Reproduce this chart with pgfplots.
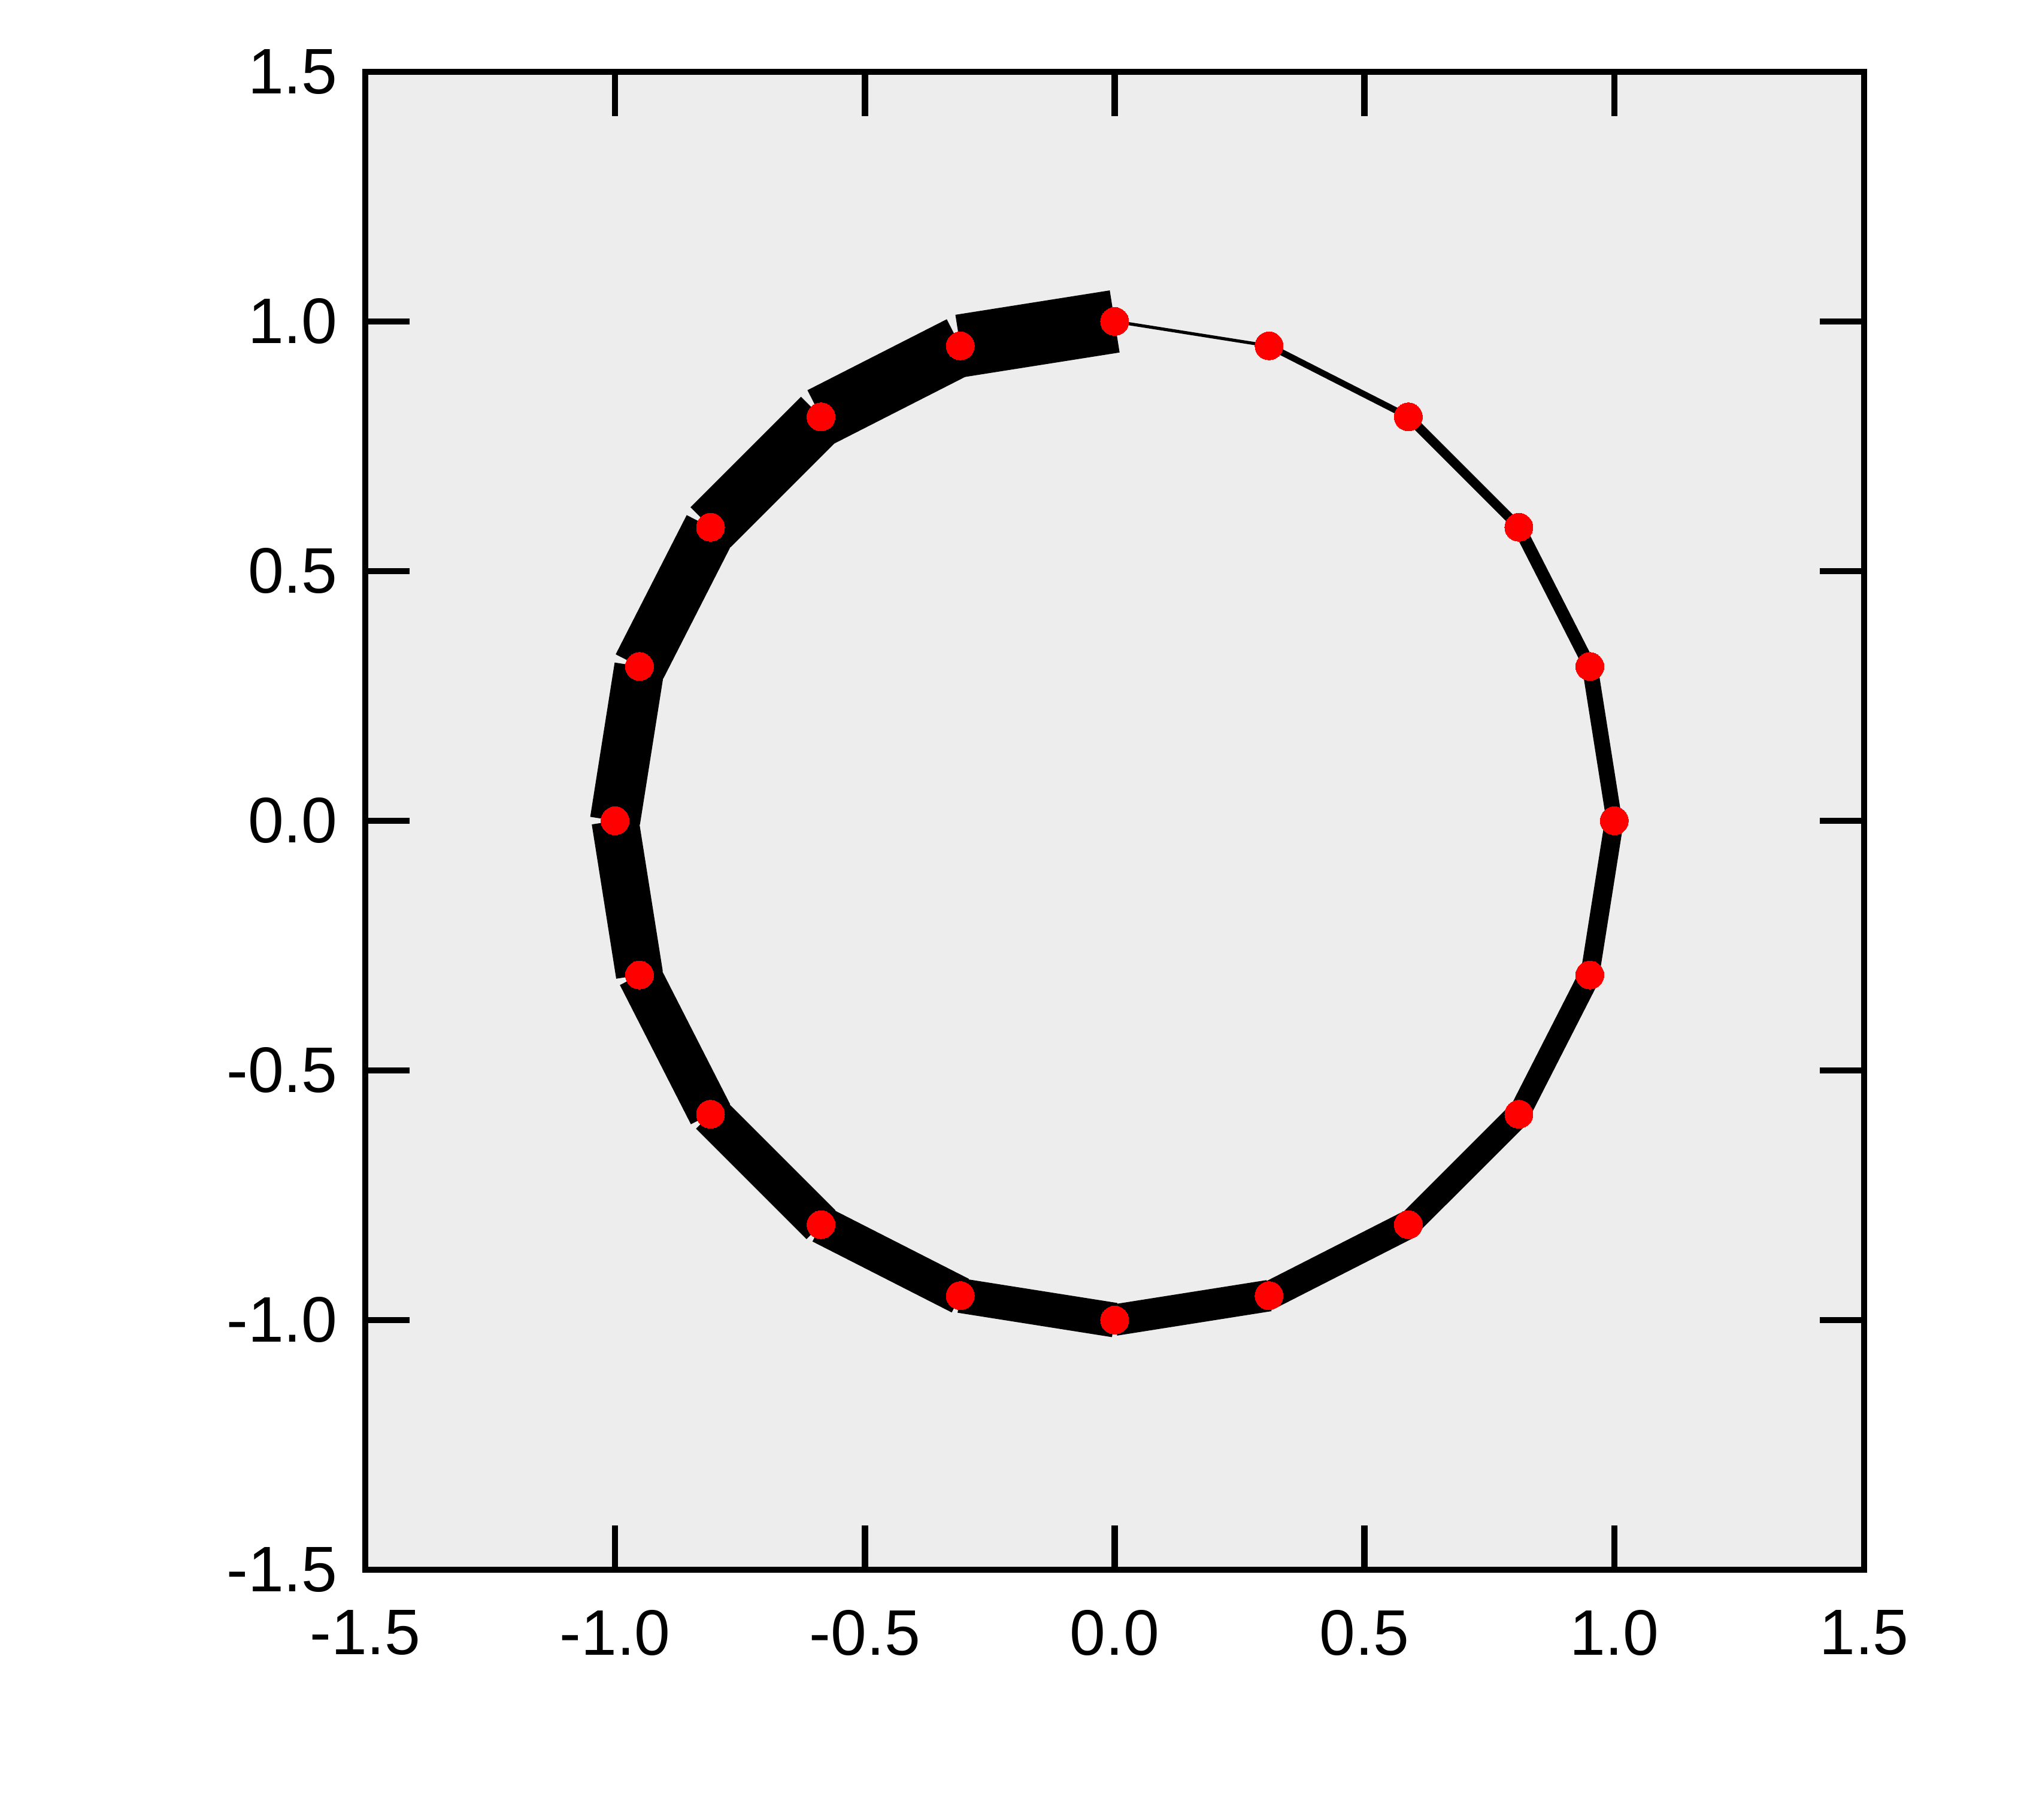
\documentclass[border=0pt]{standalone}
\usepackage{fontspec}
\setmainfont{Liberation Sans}
\usepackage{pgfplots}
\pgfplotsset{compat=1.18}
\definecolor{bg}{RGB}{237,237,237}
\begin{document}
\begin{tikzpicture}
\begin{axis}[
  at={(0,0)}, anchor=south west,
  scale only axis, width=250.3pt, height=250.2pt,
  xmin=-1.5, xmax=1.5, ymin=-1.5, ymax=1.5,
  xtick={-1.5,-1,-0.5,0,0.5,1,1.5}, ytick={-1.5,-1,-0.5,0,0.5,1,1.5},
  xticklabels={-1.5,-1.0,-0.5,0.0,0.5,1.0,1.5},
  yticklabels={-1.5,-1.0,-0.5,0.0,0.5,1.0,1.5},
  axis background/.style={fill=bg},
  axis line style={line width=1.05pt},
  tick style={line width=1.05pt, black},
  major tick length=7.4pt,
  tick align=inside,
  xtick pos=both, ytick pos=both,
  ticklabel style={font=\fontsize{10.75}{12}\selectfont},
  xticklabel style={yshift=-3.2pt},
  yticklabel style={xshift=-1.1pt},
  clip=false,
]
\addplot[line width=0.525pt, line cap=butt] coordinates {(0,1) (0.3090,0.9511)};
\addplot[line width=1.05pt, line cap=butt] coordinates {(0.3090,0.9511) (0.5878,0.8090)};
\addplot[line width=1.575pt, line cap=butt] coordinates {(0.5878,0.8090) (0.8090,0.5878)};
\addplot[line width=2.1pt, line cap=butt] coordinates {(0.8090,0.5878) (0.9511,0.3090)};
\addplot[line width=2.625pt, line cap=butt] coordinates {(0.9511,0.3090) (1,0)};
\addplot[line width=3.15pt, line cap=butt] coordinates {(1,0) (0.9511,-0.3090)};
\addplot[line width=3.675pt, line cap=butt] coordinates {(0.9511,-0.3090) (0.8090,-0.5878)};
\addplot[line width=4.2pt, line cap=butt] coordinates {(0.8090,-0.5878) (0.5878,-0.8090)};
\addplot[line width=4.725pt, line cap=butt] coordinates {(0.5878,-0.8090) (0.3090,-0.9511)};
\addplot[line width=5.25pt, line cap=butt] coordinates {(0.3090,-0.9511) (0,-1)};
\addplot[line width=5.775pt, line cap=butt] coordinates {(0,-1) (-0.3090,-0.9511)};
\addplot[line width=6.3pt, line cap=butt] coordinates {(-0.3090,-0.9511) (-0.5878,-0.8090)};
\addplot[line width=6.825pt, line cap=butt] coordinates {(-0.5878,-0.8090) (-0.8090,-0.5878)};
\addplot[line width=7.35pt, line cap=butt] coordinates {(-0.8090,-0.5878) (-0.9511,-0.3090)};
\addplot[line width=7.875pt, line cap=butt] coordinates {(-0.9511,-0.3090) (-1,0)};
\addplot[line width=8.4pt, line cap=butt] coordinates {(-1,0) (-0.9511,0.3090)};
\addplot[line width=8.925pt, line cap=butt] coordinates {(-0.9511,0.3090) (-0.8090,0.5878)};
\addplot[line width=9.45pt, line cap=butt] coordinates {(-0.8090,0.5878) (-0.5878,0.8090)};
\addplot[line width=9.975pt, line cap=butt] coordinates {(-0.5878,0.8090) (-0.3090,0.9511)};
\addplot[line width=10.5pt, line cap=butt] coordinates {(-0.3090,0.9511) (0,1)};
\addplot[only marks, color=red, mark=*, mark size=2.35pt, mark options={draw=red, fill=red, line width=0pt}] coordinates {
  (0,1) (0.3090,0.9511) (0.5878,0.8090) (0.8090,0.5878) (0.9511,0.3090)
  (1,0) (0.9511,-0.3090) (0.8090,-0.5878) (0.5878,-0.8090) (0.3090,-0.9511)
  (0,-1) (-0.3090,-0.9511) (-0.5878,-0.8090) (-0.8090,-0.5878) (-0.9511,-0.3090)
  (-1,0) (-0.9511,0.3090) (-0.8090,0.5878) (-0.5878,0.8090) (-0.3090,0.9511)
};
\end{axis}
\pgfresetboundingbox
\path[use as bounding box] (-61pt,-41.8pt) rectangle (277pt,262.2pt);
\end{tikzpicture}
\end{document}
